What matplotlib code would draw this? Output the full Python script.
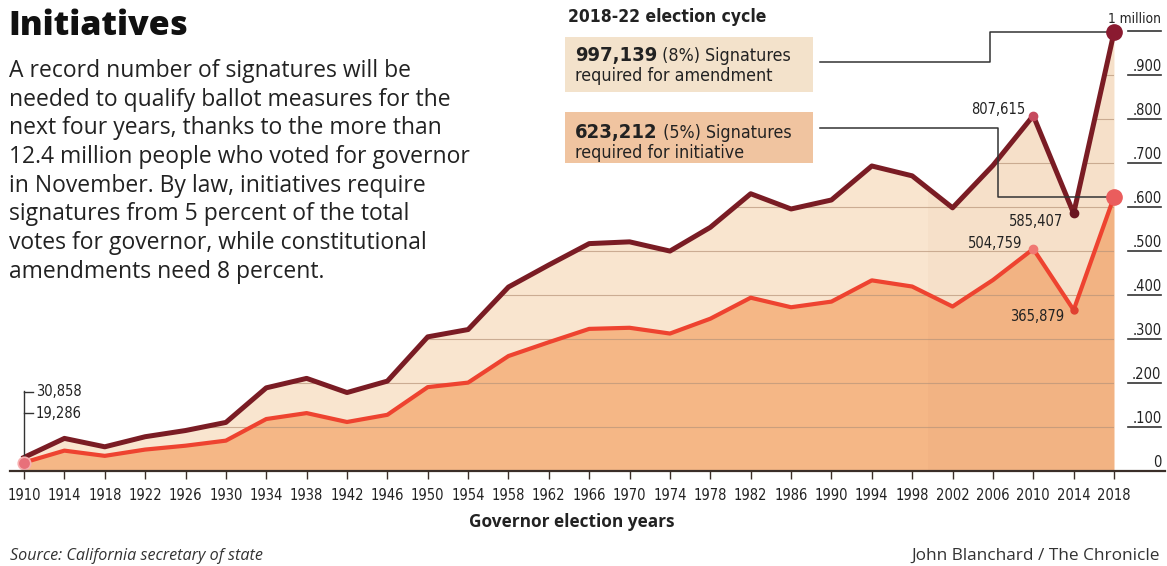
import matplotlib
matplotlib.use("Agg")
import matplotlib.pyplot as plt
from matplotlib.patches import Rectangle

W, H = 1167, 566

# Data: signatures required per governor election cycle
years = list(range(1910, 2019, 4))
amendment = [30858, 74100, 55000, 77900, 92000, 110400, 189000, 210500, 178300, 204300,
             304900, 321500, 418100, 468300, 516800, 520806, 499846, 553790, 630136, 595485,
             615958, 693230, 670816, 598105, 694354, 807615, 585407, 997139]
initiative = [19286, 46300, 34400, 48700, 57500, 69000, 118100, 131600, 111400, 127700,
              190600, 200900, 261300, 292700, 323000, 325504, 312404, 346119, 393835, 372178,
              384974, 433269, 419260, 373816, 433971, 504759, 365879, 623212]
y_ticks = [0, 100000, 200000, 300000, 400000, 500000, 600000, 700000, 800000, 900000, 1000000]
y_labels = ["0", ".100", ".200", ".300", ".400", ".500", ".600", ".700", ".800", ".900", "1 million"]
body_lines = [
    "A record number of signatures will be",
    "needed to qualify ballot measures for the",
    "next four years, thanks to the more than",
    "12.4 million people who voted for governor",
    "in November. By law, initiatives require",
    "signatures from 5 percent of the total",
    "votes for governor, while constitutional",
    "amendments need 8 percent.",
]

# Theme
DARK = "#7a1c24"
LIGHT = "#ee4330"
ORANGE_FILL = "#f5b786"
BEIGE_FILL = "#f9e5cf"
GRID = "#b8957a"
TEXT = "#222222"
COND = dict(family="DejaVu Sans", fontstretch="condensed")
SANS = ["Open Sans", "DejaVu Sans"]


def fx(px):
    return px / W


def fy(py):
    return 1 - py / H


fig = plt.figure(figsize=(W / 100, H / 100), dpi=100)
fig.patch.set_facecolor("white")
ax = fig.add_axes([fx(10), fy(471), 1155 / W, 453.2 / H])
ax.set_xlim(1908.61, 2023.05)
ax.set_ylim(0, 1030000)


def data_from_px(px, py):
    return ax.transData.inverted().transform((px, H - py))


# areas
ax.fill_between(years, initiative, amendment, color=BEIGE_FILL, lw=0, zorder=1)
ax.fill_between(years, 0, initiative, color=ORANGE_FILL, lw=0, zorder=1)
area = ax.fill_between(years, 0, amendment, facecolor="none", lw=0)
clip = area.get_paths()[0]

band = ax.axvspan(1999.6, years[-1], color="#a0522d", alpha=0.03, lw=0, zorder=1.5)
band.set_clip_path(clip, ax.transData)

for v, lab in zip(y_ticks, y_labels):
    if v > 0:
        g = ax.axhline(v, color=GRID, lw=0.8, alpha=0.7, zorder=2)
        g.set_clip_path(clip, ax.transData)
        ax.plot([2019.4, 2022.7], [v, v], color="#333333", lw=1.2, clip_on=False, zorder=2)
    top_lab = v == y_ticks[-1]
    ax.annotate(lab, xy=(2022.7, v), xytext=(0, 5 if top_lab else 1), textcoords="offset pixels",
                ha="right", va="bottom", fontsize=9.8 if top_lab else 10.5,
                color=TEXT, zorder=6, annotation_clip=False, **COND)

ax.plot(years, initiative, color=LIGHT, lw=3, zorder=3, solid_joinstyle="round")
ax.plot(years, amendment, color=DARK, lw=3.6, zorder=4, solid_joinstyle="round")

# markers
ax.plot(years[0], initiative[0], "o", ms=9, color="#e8707a", mec="#f6b0b0", mew=1.2, zorder=5)
ax.plot(years[-3], amendment[-3], "o", ms=6, color="#c64a5e", zorder=5)
ax.plot(years[-3], initiative[-3], "o", ms=6, color="#f07872", zorder=5)
ax.plot(years[-2], amendment[-2], "o", ms=6, color="#6a1520", zorder=5)
ax.plot(years[-2], initiative[-2], "o", ms=5, color="#e04030", zorder=5)
ax.plot(years[-1], amendment[-1], "o", ms=11, color="#8a1a30", zorder=5)
ax.plot(years[-1], initiative[-1], "o", ms=11, color="#ea5d5d", zorder=5)

# value labels
for i, vals, off in [(-3, amendment, (-8, 6)), (-3, initiative, (-11, 5)),
                     (-2, amendment, (-10, -8)), (-2, initiative, (-9, -6))]:
    ax.annotate(f"{vals[i]:,}", xy=(years[i], vals[i]), xytext=off, textcoords="offset pixels",
                ha="right", va="center", fontsize=10.5, color=TEXT, zorder=6, **COND)

# 1910 bracket
bx, top = data_from_px(25, 391)
_, t1 = data_from_px(0, 392)
_, t2 = data_from_px(0, 413)
tx, _ = data_from_px(33, 0)
lx, _ = data_from_px(36, 0)
ax.plot([years[0], years[0]], [initiative[0], top], color="#333333", lw=1, zorder=4)
ax.plot([years[0], tx], [t1, t1], color="#333333", lw=1, zorder=4)
ax.plot([years[0], tx], [t2, t2], color="#333333", lw=1, zorder=4)
ax.text(lx, t1, f"{amendment[0]:,}", ha="left", va="center", fontsize=10.5, color=TEXT, **COND)
ax.text(lx, t2, f"{initiative[0]:,}", ha="left", va="center", fontsize=10.5, color=TEXT, **COND)

# axis styling
for s in ["left", "right", "top"]:
    ax.spines[s].set_visible(False)
ax.spines["bottom"].set_color("#3a2e28")
ax.spines["bottom"].set_linewidth(1.6)
ax.spines["bottom"].set_zorder(6)
ax.set_yticks([])
ax.set_xticks(years)
ax.set_xticklabels([str(y) for y in years], fontsize=10.5, color=TEXT, **COND)
ax.tick_params(axis="x", direction="out", length=6, width=1, color="#3a2e28", pad=6)
ax.set_facecolor("none")

# connector lines from boxes
x_box, y_a = data_from_px(820, 62)
x_turn_a, _ = data_from_px(990, 0)
ax.plot([x_box, x_turn_a, x_turn_a, years[-1]], [y_a, y_a, amendment[-1], amendment[-1]],
        color="#333333", lw=1.1, clip_on=False, zorder=4.5)
_, y_i = data_from_px(0, 128)
x_turn_i, _ = data_from_px(998, 0)
ax.plot([x_box, x_turn_i, x_turn_i, years[-1]], [y_i, y_i, initiative[-1], initiative[-1]],
        color="#333333", lw=1.1, clip_on=False, zorder=4.5)

# boxes
fig.patches.append(Rectangle((fx(565), fy(92)), 248 / W, 55 / H, transform=fig.transFigure,
                             facecolor="#f3e2cb", edgecolor="none", zorder=5))
fig.patches.append(Rectangle((fx(565), fy(163)), 248 / W, 51 / H, transform=fig.transFigure,
                             facecolor="#f0c4a0", edgecolor="none", zorder=5))

renderer = fig.canvas.get_renderer()
for yb, big, rest, line2 in [(55, f"{amendment[-1]:,}", " (8%) Signatures", "required for amendment"),
                             (132, f"{initiative[-1]:,}", " (5%) Signatures", "required for initiative")]:
    t = fig.text(fx(575), fy(yb + 6), big, ha="left", va="baseline", fontsize=14.5,
                 fontweight="bold", color=TEXT, zorder=6, **COND)
    bb = t.get_window_extent(renderer)
    fig.text(bb.x1 / W, fy(yb + 6), rest, ha="left", va="baseline", fontsize=12.8,
             color=TEXT, zorder=6, **COND)
    fig.text(fx(575), fy(yb + 26), line2, ha="left", va="baseline", fontsize=12.8,
             color=TEXT, zorder=6, **COND)

fig.text(fx(568), fy(17), "2018-22 election cycle", ha="left", va="center", fontsize=12.5,
         fontweight="bold", color=TEXT, **COND)

# title and intro
fig.text(fx(8), fy(26), "Initiatives", ha="left", va="center", fontsize=24.5, fontweight="heavy",
         family=SANS, color="#111111")
for k, line in enumerate(body_lines):
    fig.text(fx(9), fy(71 + k * 28.7), line, ha="left", va="center", fontsize=16.5,
             family=SANS, color=TEXT)

fig.text(fx(572), fy(522), "Governor election years", ha="center", va="center", fontsize=12.4,
         fontweight="bold", family=SANS, color=TEXT)
fig.text(fx(10), fy(556), "Source: California secretary of state", ha="left", va="center",
         fontsize=11.6, style="italic", family=SANS, color="#333333")
fig.text(fx(1160), fy(556), "John Blanchard / The Chronicle", ha="right", va="center",
         fontsize=12.4, family=SANS, color="#333333")

fig.savefig("out.png", dpi=100, facecolor="white")
plt.close(fig)
